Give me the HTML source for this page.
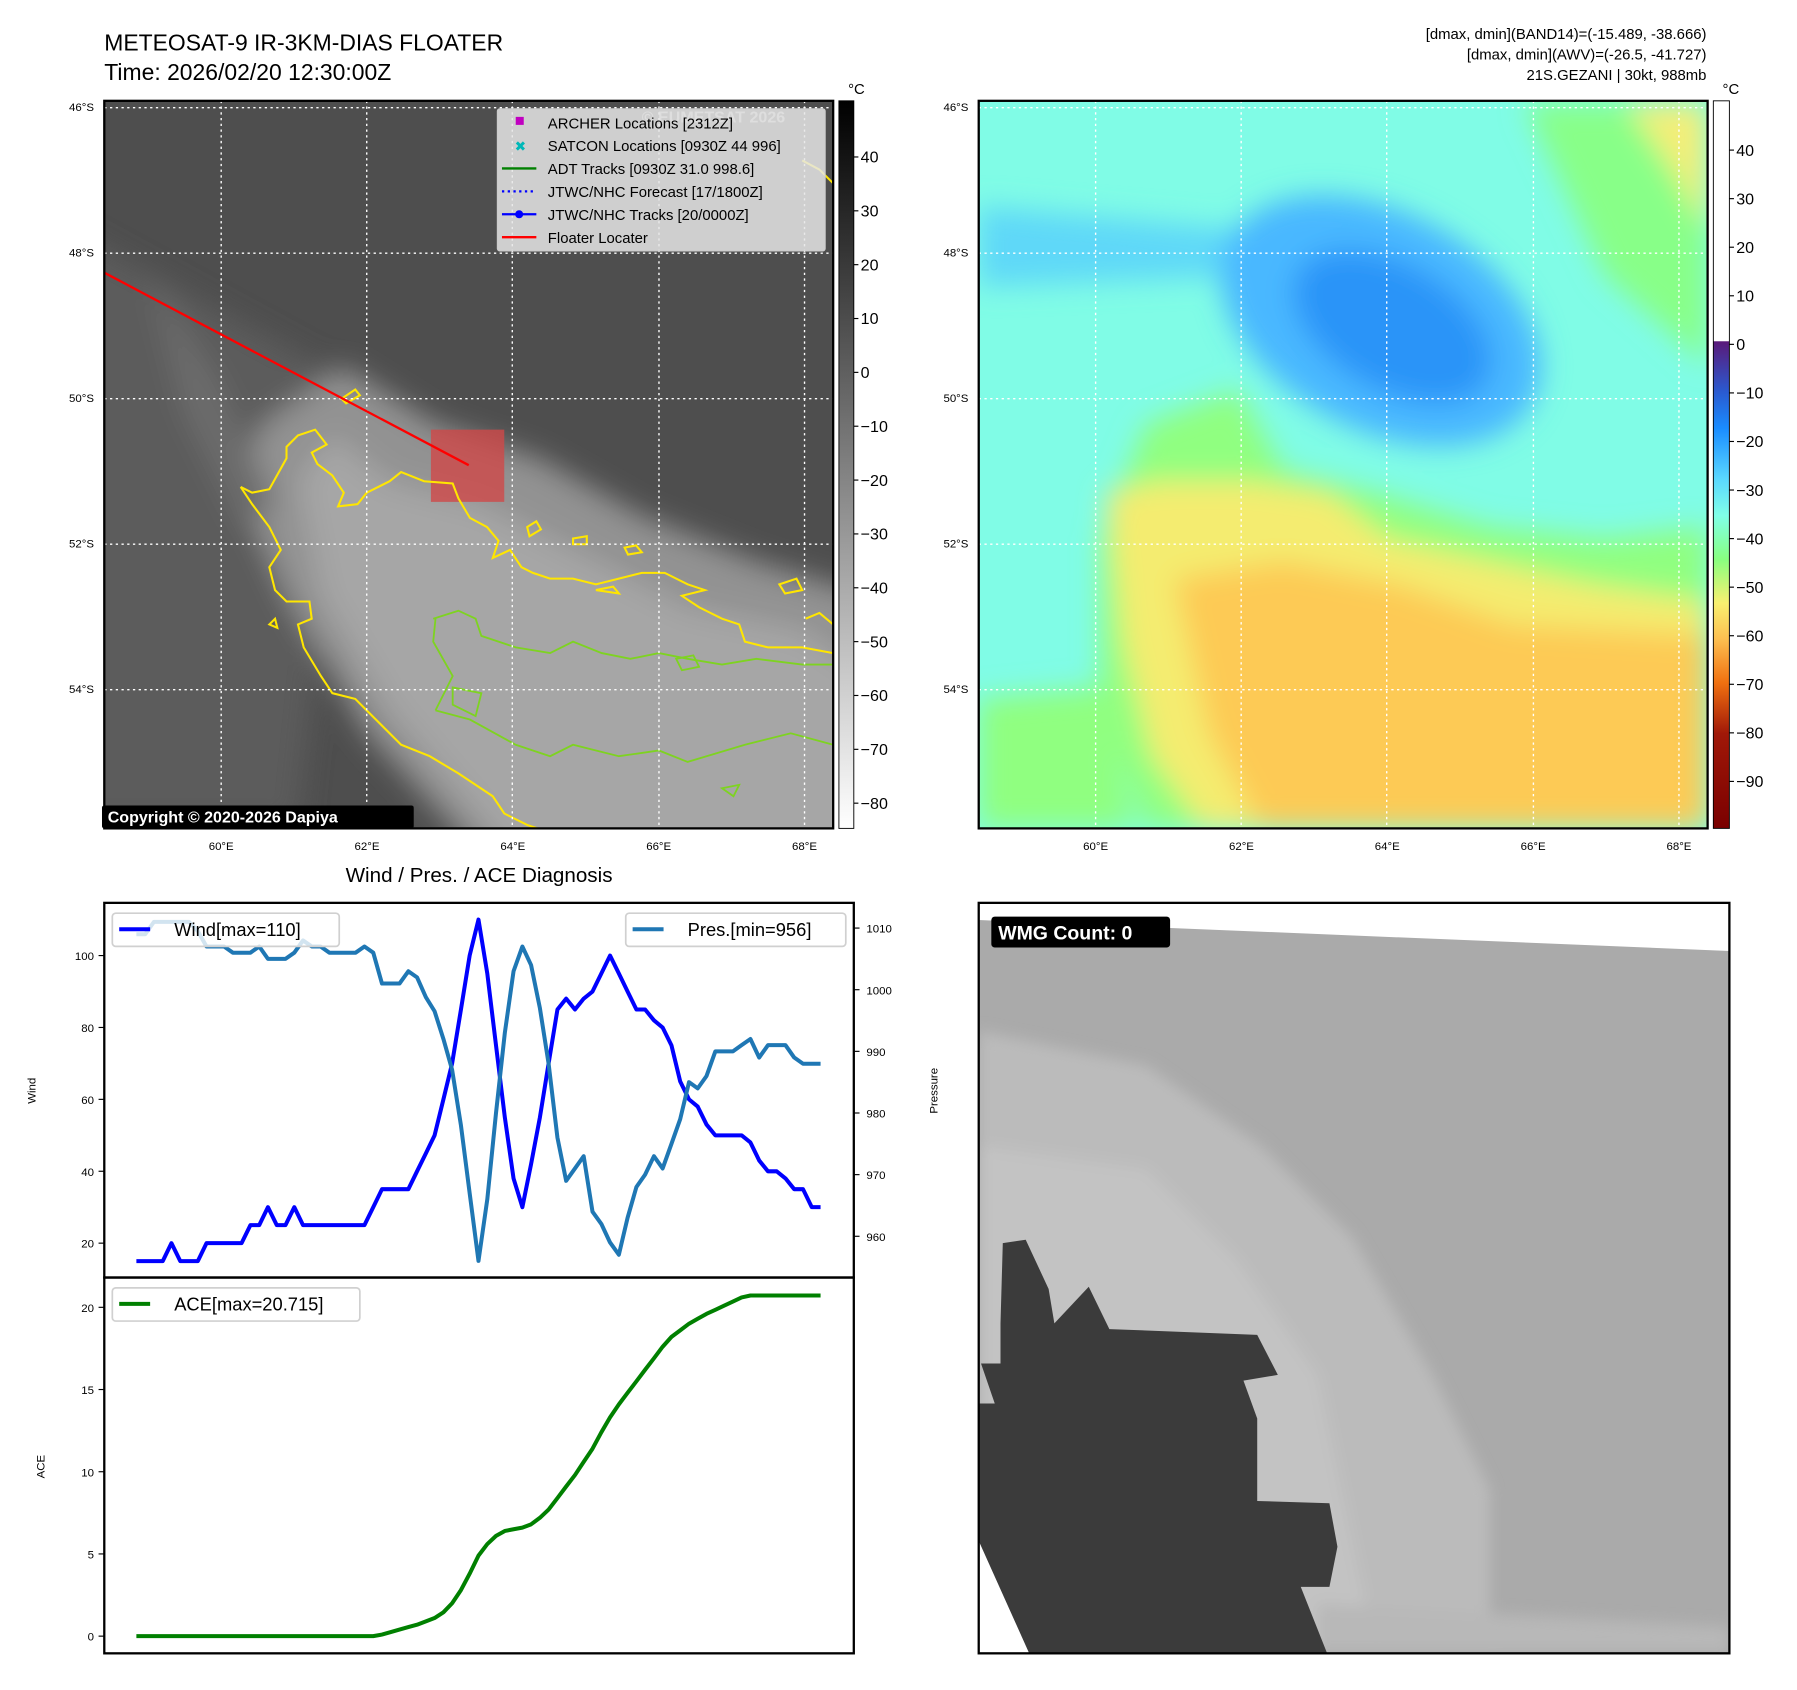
<!DOCTYPE html>
<html><head><meta charset="utf-8">
<style>
html,body{margin:0;padding:0;background:#fff;}
svg{display:block;font-family:"Liberation Sans","DejaVu Sans",sans-serif;}
</style></head>
<body>
<svg id="fig" width="1797" height="1690" viewBox="0 0 1568 1475" preserveAspectRatio="none" xmlns="http://www.w3.org/2000/svg">
<defs>
<filter id="blur12" x="-20%" y="-20%" width="140%" height="140%"><feGaussianBlur stdDeviation="12"/></filter>
<filter id="blur6" x="-20%" y="-20%" width="140%" height="140%"><feGaussianBlur stdDeviation="6"/></filter>
<clipPath id="clipA"><rect x="91" y="88" width="636" height="635"/></clipPath>
<clipPath id="clipB"><rect x="854" y="88" width="636" height="635"/></clipPath>
<clipPath id="clipC"><rect x="854" y="788" width="655" height="655"/></clipPath>
<linearGradient id="cbGray" x1="0" y1="0" x2="0" y2="1"><stop offset="0" stop-color="#000"/><stop offset="1" stop-color="#fff"/></linearGradient>
<linearGradient id="cbWV" x1="0" y1="0" x2="0" y2="1">
<stop offset="0" stop-color="#fff"/><stop offset="0.33" stop-color="#fff"/>
<stop offset="0.331" stop-color="#5a1a7a"/><stop offset="0.40" stop-color="#2a5ad0"/>
<stop offset="0.45" stop-color="#1a8cff"/><stop offset="0.52" stop-color="#5ad8ff"/>
<stop offset="0.57" stop-color="#80ffe8"/><stop offset="0.63" stop-color="#88ff80"/>
<stop offset="0.69" stop-color="#f8f070"/><stop offset="0.74" stop-color="#fdbf50"/>
<stop offset="0.80" stop-color="#f07010"/><stop offset="0.87" stop-color="#a01808"/>
<stop offset="1" stop-color="#7a0000"/></linearGradient>
</defs>

<text x="91" y="44" font-size="20">METEOSAT-9 IR-3KM-DIAS FLOATER</text>
<text x="91" y="70" font-size="20">Time: 2026/02/20 12:30:00Z</text>
<g font-size="13" text-anchor="end">
<text x="1489" y="34">[dmax, dmin](BAND14)=(-15.489, -38.666)</text>
<text x="1489" y="52">[dmax, dmin](AWV)=(-26.5, -41.727)</text>
<text x="1489" y="70">21S.GEZANI | 30kt, 988mb</text>
</g>

<g clip-path="url(#clipA)">
<rect x="91" y="88" width="636" height="635" fill="#4e4e4e"/>
<g filter="url(#blur12)">
<path d="M60,200 L300,330 L260,720 L60,720 Z" fill="#5c5c5c"/>
<path d="M230,370 L300,320 L380,370 L470,400 L560,450 L660,490 L760,520 L760,760 L430,760 L320,640 L250,520 L205,420 Z" fill="#929292"/>
<path d="M260,420 L290,380 L340,420 L420,440 L520,490 L600,530 L700,550 L760,590 L760,760 L460,760 L340,620 L280,520 Z" fill="#a6a6a6"/>
<path d="M130,240 L190,330 L240,440 L210,460 L160,360 Z" fill="#6c6c6c"/>
</g>
<path d="M376,375 h64 v63 h-64 Z" fill="#d04848" opacity="0.8"/>
<g fill="none" stroke="#ffe600" stroke-width="1.8">
<path d="M210,425 L220,430 L235,427 L250,400 L250,390 L260,380 L275,375 L285,388 L272,395 L277,405 L290,415 L300,430 L295,442 L312,440 L320,430 L340,420 L350,412 L370,420 L395,422 L400,435 L410,452 L425,460 L435,472 L430,487 L445,480 L455,495 L465,500 L480,505 L500,505 L520,510 L540,505 L560,500 L580,500 L600,510 L615,515 L595,520 L610,530 L630,540 L645,545 L650,560 L670,565 L700,565 L727,570"/>
<path d="M210,425 L220,440 L235,460 L245,480 L235,495 L240,515 L250,525 L270,525 L272,540 L260,545 L265,565 L280,590 L290,605 L310,610 L325,625 L350,650 L375,660 L400,675 L430,695 L440,710 L460,720 L490,730 L530,738"/>
<path d="M298,348 L310,340 L314,345 L302,352 Z"/>
<path d="M460,460 L468,455 L472,462 L462,468 Z"/>
<path d="M500,470 L512,468 L512,475 L500,475 Z"/>
<path d="M545,478 L555,476 L560,482 L548,484 Z"/>
<path d="M520,515 L535,512 L540,518 Z"/>
<path d="M680,510 L695,505 L700,515 L685,518 Z"/>
<path d="M703,540 L715,535 L727,545"/>
<path d="M235,545 L240,540 L242,548 Z"/>
<path d="M700,140 L715,148 L727,160"/>
</g>
<g fill="none" stroke="#7ed321" stroke-width="1.6">
<path d="M378,540 L400,533 L415,540 L420,555 L450,565 L480,570 L500,560 L525,570 L550,575 L575,570 L600,575 L630,580 L660,575 L700,580 L727,580"/>
<path d="M380,620 L410,628 L450,650 L480,660 L500,650 L540,660 L575,655 L600,665 L650,650 L690,640 L727,650"/>
<path d="M380,540 L378,560 L395,590 L380,620"/>
<path d="M395,600 L420,605 L415,625 L395,615 Z"/>
<path d="M630,688 L645,685 L640,695 Z"/>
<path d="M590,575 L605,572 L610,582 L595,585 Z"/>
</g>
<g stroke="#fff" stroke-width="1.2" stroke-dasharray="2,3">
<line x1="193" y1="88" x2="193" y2="723"/><line x1="320" y1="88" x2="320" y2="723"/><line x1="447" y1="88" x2="447" y2="723"/><line x1="575" y1="88" x2="575" y2="723"/><line x1="702" y1="88" x2="702" y2="723"/>
<line x1="91" y1="94" x2="727" y2="94"/><line x1="91" y1="221" x2="727" y2="221"/><line x1="91" y1="348" x2="727" y2="348"/><line x1="91" y1="475" x2="727" y2="475"/><line x1="91" y1="602" x2="727" y2="602"/>
</g>
<line x1="91" y1="238" x2="409" y2="406" stroke="#ff0000" stroke-width="2"/>
<text x="560" y="107" font-size="14" font-weight="bold" fill="#eee" opacity="0.6">© EUMETSAT 2026</text>
</g>
<rect x="91" y="88" width="636" height="635" fill="none" stroke="#000" stroke-width="2"/>

<g>
<rect x="434" y="95" width="286" height="124" fill="#e6e6e6" fill-opacity="0.85" stroke="#ccc" rx="2"/>
<g font-size="13">
<rect x="450" y="102" width="7" height="7" fill="#c000c0"/><text x="478" y="112">ARCHER Locations [2312Z]</text>
<text x="449" y="132" fill="#00b8b8" font-size="12" font-weight="bold">✖</text><text x="478" y="132">SATCON Locations [0930Z 44 996]</text>
<line x1="438" y1="147" x2="468" y2="147" stroke="#008000" stroke-width="2"/><text x="478" y="152">ADT Tracks [0930Z 31.0 998.6]</text>
<line x1="438" y1="167" x2="468" y2="167" stroke="#0000ff" stroke-width="2" stroke-dasharray="2,3"/><text x="478" y="172">JTWC/NHC Forecast [17/1800Z]</text>
<line x1="438" y1="187" x2="468" y2="187" stroke="#0000ff" stroke-width="2"/><circle cx="453" cy="187" r="3.5" fill="#0000ff"/><text x="478" y="192">JTWC/NHC Tracks [20/0000Z]</text>
<line x1="438" y1="207" x2="468" y2="207" stroke="#ff0000" stroke-width="2"/><text x="478" y="212">Floater Locater</text>
</g></g>
<g><rect x="89" y="703" width="272" height="20" fill="#000" rx="2"/><text x="94" y="718" font-size="14" font-weight="bold" fill="#fff">Copyright © 2020-2026 Dapiya</text></g>

<g clip-path="url(#clipB)">
<rect x="854" y="88" width="636" height="635" fill="#80fce6"/>
<g filter="url(#blur12)">
<path d="M854,180 L1080,200 L1100,240 L854,250 Z" fill="#5fd8f8"/>
<ellipse cx="1205" cy="280" rx="150" ry="95" transform="rotate(28 1205 280)" fill="#48b8ff"/>
<ellipse cx="1215" cy="285" rx="95" ry="55" transform="rotate(30 1215 285)" fill="#2a94f8"/>
<path d="M1330,90 L1490,90 L1490,320 L1400,240 Z" fill="#88ff88"/>
<path d="M1420,90 L1490,90 L1490,200 L1460,150 Z" fill="#f4ee78"/>
<path d="M960,470 L1000,370 L1080,340 L1120,410 L1200,430 L1300,460 L1400,470 L1490,460 L1490,723 L1000,723 L960,620 Z" fill="#90ff80"/>
<path d="M854,610 L960,600 L990,723 L854,723 Z" fill="#90ff80"/>
<path d="M965,430 L1010,420 L1090,420 L1160,430 L1210,470 L1300,490 L1390,510 L1490,525 L1490,723 L1050,723 L1005,660 L980,560 Z" fill="#f4ec70"/>
<path d="M1025,505 L1120,490 L1220,510 L1320,545 L1490,555 L1490,723 L1100,723 L1055,640 Z" fill="#fdca55"/>
</g>
<g stroke="#fff" stroke-width="1.2" stroke-dasharray="2,3">
<line x1="956" y1="88" x2="956" y2="723"/><line x1="1083" y1="88" x2="1083" y2="723"/><line x1="1210" y1="88" x2="1210" y2="723"/><line x1="1338" y1="88" x2="1338" y2="723"/><line x1="1465" y1="88" x2="1465" y2="723"/>
<line x1="854" y1="94" x2="1490" y2="94"/><line x1="854" y1="221" x2="1490" y2="221"/><line x1="854" y1="348" x2="1490" y2="348"/><line x1="854" y1="475" x2="1490" y2="475"/><line x1="854" y1="602" x2="1490" y2="602"/>
</g>
</g>
<rect x="854" y="88" width="636" height="635" fill="none" stroke="#000" stroke-width="2"/>

<g>
<rect x="732" y="88" width="13" height="635" fill="url(#cbGray)" stroke="#000" stroke-width="0.8"/>
<text x="740" y="82" font-size="13">°C</text>
<g font-size="14" id="cb1"></g>
</g>
<g>
<rect x="1495" y="88" width="14" height="635" fill="url(#cbWV)" stroke="#000" stroke-width="0.8"/>
<text x="1503" y="82" font-size="13">°C</text>
<g font-size="14" id="cb2"></g>
</g>
<g id="mapTicks" font-size="10"></g>

<text x="418" y="770" font-size="18" text-anchor="middle">Wind / Pres. / ACE Diagnosis</text>
<g id="chart"></g>

<g clip-path="url(#clipC)">
<rect x="854" y="788" width="655" height="655" fill="#fff"/>
<path d="M854,803 L1509,830 L1509,1443 L854,1443 Z" fill="#aaaaaa"/>
<g filter="url(#blur6)">
<path d="M854,900 L1000,930 L1100,1000 L1180,1080 L1250,1200 L1300,1300 L1300,1443 L1000,1443 L854,1300 Z" fill="#bbbbbb"/>
<path d="M854,1000 L1000,1020 L1080,1100 L1150,1200 L1200,1443 L1000,1443 L854,1300 Z" fill="#c3c3c3"/>
<path d="M1150,1400 L1509,1420 L1509,1443 L1150,1443 Z" fill="#b8b8b8"/>
</g>
<path d="M875,1085 L895,1082 L915,1125 L920,1155 L950,1123 L968,1160 L1097,1165 L1115,1200 L1085,1205 L1097,1238 L1097,1310 L1160,1312 L1167,1350 L1160,1385 L1135,1385 L1158,1443 L898,1443 L854,1345 L854,1225 L868,1225 L856,1190 L873,1190 L873,1155 Z" fill="#3b3b3b"/>
<path d="M854,1345 L898,1443 L854,1443 Z" fill="#fff"/>
</g>
<rect x="854" y="788" width="655" height="655" fill="none" stroke="#000" stroke-width="2"/>
<g><rect x="865" y="800" width="156" height="27" rx="3" fill="#000"/><text x="871" y="820" font-size="17" font-weight="bold" fill="#fff">WMG Count: 0</text></g>
</svg>

<script>
// ---- chart data (one sample per track fix) ----
const windValues = [15,15,15,15,20,15,15,15,20,20,20,20,20,25,25,30,25,25,30,25,25,25,25,25,25,25,25,30,35,35,35,35,40,45,50,60,70,85,100,110,95,75,55,38,30,42,55,70,85,88,85,88,90,95,100,95,90,85,85,82,80,75,65,60,58,53,50,50,50,50,48,43,40,40,38,35,35,30,30];
const presValues = [1009,1009,1011,1011,1011,1011,1011,1009.5,1007,1007,1007,1006,1006,1006,1007,1005,1005,1005,1006,1008,1007,1007,1006,1006,1006,1006,1007,1006,1001,1001,1001,1003,1002,998.8,996.5,992,987,978,967,956,966,980,993,1003,1007,1004,997,988,976,969,971,973,964,962,959,957,963,968,970,973,971,975,979,985,984,986,990,990,990,991,992,989,991,991,991,989,988,988,988];
const aceValues = [0,0,0,0,0,0,0,0,0,0,0,0,0,0,0,0,0,0,0,0,0,0,0,0,0,0,0,0,0.1,0.25,0.4,0.55,0.7,0.9,1.1,1.45,2.0,2.8,3.8,4.9,5.6,6.1,6.4,6.5,6.6,6.8,7.2,7.7,8.4,9.1,9.8,10.6,11.4,12.4,13.3,14.1,14.8,15.5,16.2,16.9,17.6,18.2,18.6,19.0,19.3,19.6,19.85,20.1,20.35,20.6,20.715,20.715,20.715,20.715,20.715,20.715,20.715,20.715,20.715];
const windTicks = [20,40,60,80,100];
const presTicks = [960,970,980,990,1000,1010];
const aceTicks = [0,5,10,15,20];
const irCbTicks = [40,30,20,10,0,-10,-20,-30,-40,-50,-60,-70,-80];
const wvCbTicks = [40,30,20,10,0,-10,-20,-30,-40,-50,-60,-70,-80,-90];
const latTicks = ['46°S','48°S','50°S','52°S','54°S'];
const lonTicks = ['60°E','62°E','64°E','66°E','68°E'];

const NS='http://www.w3.org/2000/svg';
function mk(tag, attrs, parent, txt){const e=document.createElementNS(NS,tag);for(const k in attrs)e.setAttribute(k,attrs[k]);if(txt!==undefined)e.textContent=txt;parent.appendChild(e);return e;}

const n = windValues.length;
const xS = i => 119 + i*(716-119)/(n-1);
const yWind = v => 1085 - (v-20)*(1085-834)/80;
const yPres = p => 1079 - (p-960)*(1079-810)/50;
const yAce = a => 1428 - a*(1428-1141)/20;
const cb1 = v => 137 + (40-v)*(701-137)/120;
const cb2 = v => 131 + (40-v)*(682-131)/130;

const chart = document.getElementById('chart');
let f1 = mk('rect',{x:91,y:788,width:654,height:327,fill:'none',stroke:'#000','stroke-width':2},chart);


let f2 = mk('rect',{x:91,y:1115,width:654,height:328,fill:'none',stroke:'#000','stroke-width':2},chart);



windTicks.forEach(t=>{const y=yWind(t);
  mk('line',{x1:86,y1:y,x2:91,y2:y,stroke:'#000','stroke-width':1},chart);
  const tx=mk('text',{x:82,y:y+4,'font-size':10,'text-anchor':'end'},chart,String(t));
  
  });
presTicks.forEach(t=>{const y=yPres(t);
  mk('line',{x1:745,y1:y,x2:750,y2:y,stroke:'#000','stroke-width':1},chart);
  const tx=mk('text',{x:756,y:y+4,'font-size':10},chart,String(t));
  
  });
aceTicks.forEach(t=>{const y=yAce(t);
  mk('line',{x1:86,y1:y,x2:91,y2:y,stroke:'#000','stroke-width':1},chart);
  const tx=mk('text',{x:82,y:y+4,'font-size':10,'text-anchor':'end'},chart,String(t));
  
  });
let yl1=mk('text',{x:31,y:952,'font-size':10,'text-anchor':'middle',transform:'rotate(-90 31 952)'},chart,'Wind');


let yl2=mk('text',{x:818,y:952,'font-size':10,'text-anchor':'middle',transform:'rotate(-90 818 952)'},chart,'Pressure');


let yl3=mk('text',{x:39,y:1280,'font-size':10,'text-anchor':'middle',transform:'rotate(-90 39 1280)'},chart,'ACE');



function pts(arr, yf){return arr.map((v,i)=>xS(i).toFixed(1)+','+yf(v).toFixed(1)).join(' ');}
let lw=mk('polyline',{points:pts(windValues,yWind),fill:'none',stroke:'#0000ff','stroke-width':3.5,'stroke-linejoin':'round'},chart);


let lp=mk('polyline',{points:pts(presValues,yPres),fill:'none',stroke:'#1f77b4','stroke-width':3.5,'stroke-linejoin':'round'},chart);


let la=mk('polyline',{points:pts(aceValues,yAce),fill:'none',stroke:'#008000','stroke-width':3.5,'stroke-linejoin':'round'},chart);



function legend(x,y,w,color,label,name){
  const g=mk('g',{},chart);
  
  
  mk('rect',{x:x,y:y,width:w,height:29,fill:'#fff','fill-opacity':0.8,stroke:'#d0d0d0','stroke-width':1.5,rx:3},g);
  mk('line',{x1:x+6,y1:y+14,x2:x+33,y2:y+14,stroke:color,'stroke-width':3.5},g);
  mk('text',{x:x+54,y:y+20,'font-size':16},g,label);
}
legend(98,797,198,'#0000ff','Wind[max=110]','wind-legend');
legend(546,797,192,'#1f77b4','Pres.[min=956]','pressure-legend');
legend(98,1124,216,'#008000','ACE[max=20.715]','ace-legend');

const g1=document.getElementById('cb1');
irCbTicks.forEach(t=>{const y=cb1(t);
  mk('line',{x1:745,y1:y,x2:749,y2:y,stroke:'#000'},g1);
  const tx=mk('text',{x:751,y:y+5},g1,t<0?'\u2212'+(-t):String(t));
  
  });
const g2=document.getElementById('cb2');
wvCbTicks.forEach(t=>{const y=cb2(t);
  mk('line',{x1:1509,y1:y,x2:1513,y2:y,stroke:'#000'},g2);
  const tx=mk('text',{x:1515,y:y+5},g2,t<0?'\u2212'+(-t):String(t));
  
  });

const mt=document.getElementById('mapTicks');
latTicks.forEach((l,i)=>{const y=94+i*127;
  [82,845].forEach(x=>{const tx=mk('text',{x:x,y:y+3,'text-anchor':'end'},mt,l);
    
    });});
lonTicks.forEach((l,i)=>{const x=193+i*127.25;
  [0,763].forEach(dx=>{const tx=mk('text',{x:x+dx,y:742,'text-anchor':'middle'},mt,l);
    
    });});
</script>
</body></html>
